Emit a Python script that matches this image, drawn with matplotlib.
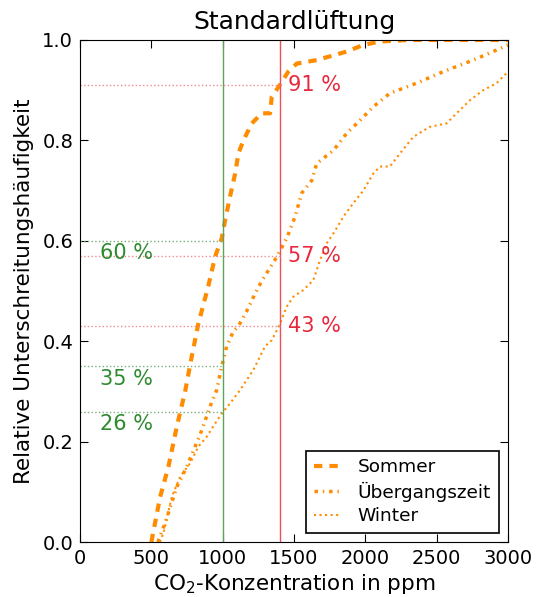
import numpy as np
import matplotlib.pyplot as plt

# CO2 concentration (ppm) vs. cumulative fraction
sommer_x = [500, 502, 561, 619, 678, 736, 783, 829, 899, 946, 993, 1016, 1051, 1087,
            1110, 1145, 1204, 1274, 1332, 1344, 1395, 1460, 1519, 1659, 1870, 1985,
            2103, 2300, 3000]
sommer_y = [0.0, 0.004, 0.09, 0.15, 0.23, 0.30, 0.37, 0.435, 0.51, 0.568, 0.605, 0.64,
            0.688, 0.734, 0.774, 0.80, 0.834, 0.854, 0.854, 0.887, 0.908, 0.937, 0.953,
            0.96, 0.977, 0.99, 0.997, 1.0, 1.0]

ueber_x = [545, 596, 678, 748, 806, 853, 911, 958, 993, 1028, 1075, 1110, 1168, 1227,
           1274, 1379, 1449, 1507, 1554, 1624, 1659, 1776, 1869, 1963, 2056, 2173,
           2360, 2547, 2757, 2921, 3000]
ueber_y = [0.0, 0.038, 0.11, 0.15, 0.19, 0.223, 0.27, 0.303, 0.35, 0.39, 0.42, 0.43,
           0.46, 0.495, 0.52, 0.568, 0.605, 0.648, 0.695, 0.72, 0.754, 0.78, 0.814,
           0.84, 0.867, 0.894, 0.914, 0.937, 0.96, 0.98, 0.99]

winter_x = [560, 584, 643, 701, 771, 829, 888, 946, 993, 1051, 1122, 1215, 1297, 1344,
            1402, 1449, 1496, 1566, 1636, 1683, 1729, 1788, 1846, 1916, 1986, 2056,
            2103, 2173, 2243, 2336, 2453, 2570, 2640, 2734, 2827, 2921, 2991]
winter_y = [0.0, 0.018, 0.09, 0.13, 0.157, 0.19, 0.21, 0.236, 0.256, 0.276, 0.303,
            0.343, 0.39, 0.402, 0.435, 0.469, 0.489, 0.502, 0.522, 0.562, 0.595, 0.62,
            0.648, 0.675, 0.70, 0.734, 0.748, 0.748, 0.774, 0.807, 0.827, 0.834, 0.854,
            0.88, 0.90, 0.914, 0.934]

# thresholds and read-off fractions
limit_green = 1000
green_levels = [0.60, 0.35, 0.26]
green_labels = ['60 %', '35 %', '26 %']
limit_red = 1400
red_levels = [0.91, 0.57, 0.43]
red_labels = ['91 %', '57 %', '43 %']

orange = '#ff8c00'
green = '#2e8b2e'
red = '#e8283c'

fig = plt.figure(figsize=(5.38, 5.97), dpi=100)
ax = fig.add_axes([0.149, 0.092, 0.795, 0.841])

ax.plot(sommer_x, sommer_y, color=orange, lw=3, dashes=(2, 1.7), label='Sommer')
ax.plot(ueber_x, ueber_y, color=orange, lw=2.5, dashes=(1.0, 1.4, 0.4, 1.4),
        label='Übergangszeit')
ax.plot(winter_x, winter_y, color=orange, lw=1.5, linestyle=':', label='Winter')

ax.axvline(limit_green, color='#5aa55a', lw=1)
ax.axvline(limit_red, color='#e8505a', lw=1)

for lev, lab in zip(green_levels, green_labels):
    ax.plot([0, limit_green], [lev, lev], color='#7ab07a', lw=1, linestyle=':')
    ax.text(140, lev - 0.025, lab, color=green, fontsize=15, va='center')
for lev, lab in zip(red_levels, red_labels):
    ax.plot([0, limit_red], [lev, lev], color='#f08890', lw=1, linestyle=':')
    ax.text(1460, lev, lab, color=red, fontsize=15, va='center')

ax.set_xlim(0, 3000)
ax.set_ylim(0, 1.0)
ax.set_xticks(np.arange(0, 3001, 500))
ax.set_yticks(np.arange(0, 1.01, 0.2))
ax.tick_params(direction='in', top=True, right=True, labelsize=14, length=6, pad=5)
ax.set_xlabel('CO$_2$-Konzentration in ppm', fontsize=15.5, labelpad=3)
ax.set_ylabel('Relative Unterschreitungshäufigkeit', fontsize=15.5, labelpad=6)
ax.set_title('Standardlüftung', fontsize=18, pad=8)

leg = ax.legend(loc='lower right', fontsize=13.3, handlelength=1.5, handletextpad=0.9,
                fancybox=False, framealpha=1, edgecolor='black', borderaxespad=0.5,
                labelspacing=0.3)
leg.get_frame().set_linewidth(1.2)

fig.savefig('out.png', dpi=100)
